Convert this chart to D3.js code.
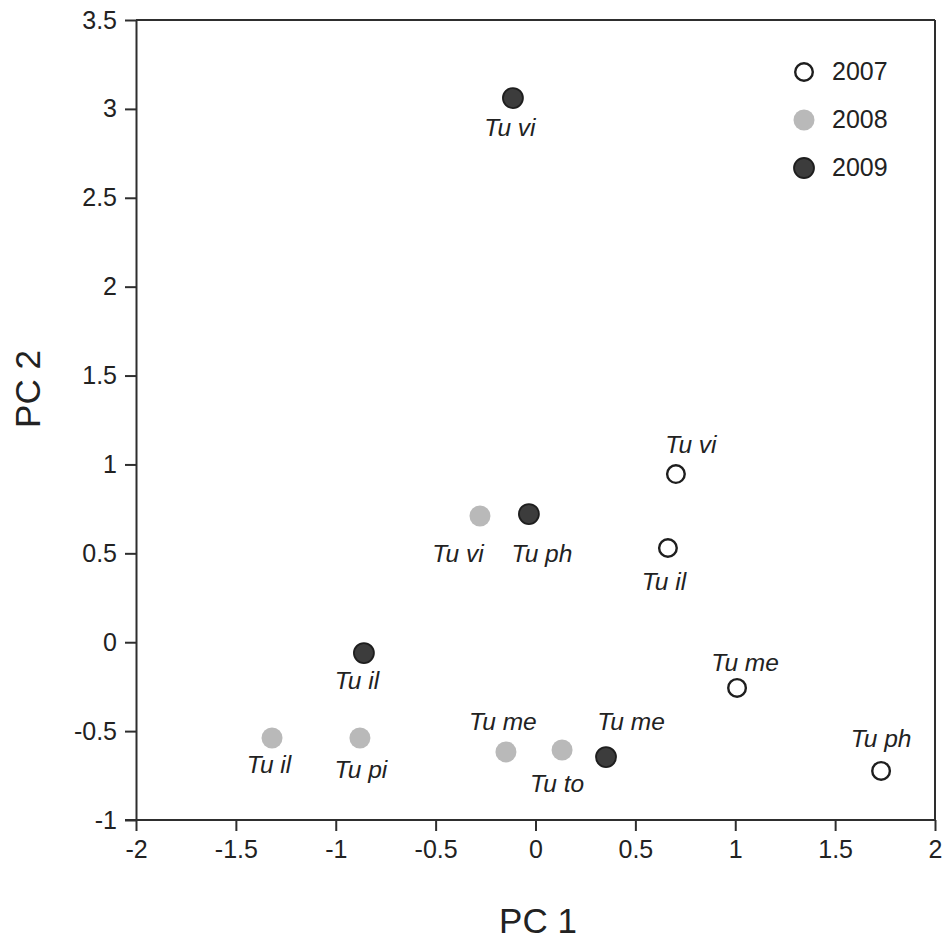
<!DOCTYPE html>
<html>
<head>
<meta charset="utf-8">
<script src="https://cdn.jsdelivr.net/npm/d3@7/dist/d3.min.js"></script>
<style>
  html, body { margin: 0; padding: 0; background: #fff; }
  svg { display: block; font-family: "Liberation Sans", Arial, sans-serif; }
</style>
</head>
<body>
<script>
// ---- data ----
const years = ["2007", "2008", "2009"];
const species = [
  "Tu vi", "Tu il", "Tu me", "Tu ph",            // 2007
  "Tu vi", "Tu il", "Tu pi", "Tu me", "Tu to",   // 2008
  "Tu vi", "Tu ph", "Tu il", "Tu me"             // 2009
];
const pointYear = [
  "2007", "2007", "2007", "2007",
  "2008", "2008", "2008", "2008", "2008",
  "2009", "2009", "2009", "2009"
];
const pc1 = [0.703, 0.663, 1.009, 1.730, -0.278, -1.319, -0.879, -0.148, 0.133, -0.113, -0.033, -0.859, 0.353];
const pc2 = [0.946, 0.530, -0.257, -0.724, 0.710, -0.539, -0.539, -0.617, -0.606, 3.061, 0.721, -0.061, -0.646];
const xTicks = [-2, -1.5, -1, -0.5, 0, 0.5, 1, 1.5, 2];
const yTicks = [-1, -0.5, 0, 0.5, 1, 1.5, 2, 2.5, 3, 3.5];

// label placement (pixel offsets from the point: dx to text centre, dy to baseline)
const labelDx = [15, -4, 8, 0, -22, -3, 1, -3, -5, -3, 13, -7, 25];
const labelDy = [-21, 42, -17, -24, 46, 35, 40, -22, 42, 38, 48, 36, -27];

// ---- layout ----
const W = 948, H = 941;
const M = { left: 136, right: 13, top: 20, bottom: 121 };
const iw = W - M.left - M.right; // 799
const ih = H - M.top - M.bottom; // 800

const fillColor = { "2007": "#ffffff", "2008": "#b9b9b9", "2009": "#3c3c3c" };
const strokeColor = { "2007": "#1e1e1e", "2008": "#b9b9b9", "2009": "#1e1e1e" };
const strokeW = { "2007": 2.4, "2008": 0, "2009": 1.8 };
const radius = { "2007": 8.8, "2008": 10.5, "2009": 10 };

const svg = d3.select("body").append("svg").attr("width", W).attr("height", H);
const g = svg.append("g").attr("transform", `translate(${M.left},${M.top})`);

const x = d3.scaleLinear().domain([-2, 2]).range([0, iw]);
const y = d3.scaleLinear().domain([-1, 3.5]).range([ih, 0]);

const axisColor = "#2e2e2e";
const textColor = "#222";

// frame (top and right)
g.append("line").attr("x1", 0).attr("x2", iw).attr("y1", 0).attr("y2", 0)
  .attr("stroke", axisColor).attr("stroke-width", 2);
g.append("line").attr("x1", iw).attr("x2", iw).attr("y1", 0).attr("y2", ih)
  .attr("stroke", axisColor).attr("stroke-width", 2);

const fmt = d => String(d);

const xAxis = g.append("g").attr("transform", `translate(0,${ih})`)
  .call(d3.axisBottom(x).tickValues(xTicks).tickFormat(fmt).tickSize(11).tickPadding(9).tickSizeOuter(0));
const yAxis = g.append("g")
  .call(d3.axisLeft(y).tickValues(yTicks).tickFormat(fmt).tickSize(11).tickPadding(8).tickSizeOuter(0));

[xAxis, yAxis].forEach(a => {
  a.select(".domain").attr("stroke", axisColor).attr("stroke-width", 2);
  a.selectAll(".tick line").attr("stroke", axisColor).attr("stroke-width", 2);
  a.selectAll(".tick text").attr("fill", textColor)
    .style("font-size", "25px").style("font-family", '"Liberation Sans", Arial, sans-serif');
});
// extend the axes at the corner like the reference
xAxis.select(".domain").attr("d", `M-11,0H${iw}`);

// axis titles
svg.append("text").attr("x", 538).attr("y", 933).attr("text-anchor", "middle")
  .attr("fill", textColor).style("font-size", "35px").text("PC 1");
svg.append("text").attr("transform", "translate(40,389) rotate(-90)").attr("text-anchor", "middle")
  .attr("fill", textColor).style("font-size", "35px").text("PC 2");

// points
const pts = species.map((s, i) => ({ s, yr: pointYear[i], x: pc1[i], y: pc2[i], dx: labelDx[i], dy: labelDy[i] }));

g.selectAll("circle.pt").data(pts).join("circle").attr("class", "pt")
  .attr("cx", d => x(d.x)).attr("cy", d => y(d.y))
  .attr("r", d => radius[d.yr])
  .attr("fill", d => fillColor[d.yr])
  .attr("stroke", d => strokeColor[d.yr])
  .attr("stroke-width", d => strokeW[d.yr]);

g.selectAll("text.lbl").data(pts).join("text").attr("class", "lbl")
  .attr("x", d => x(d.x) + d.dx).attr("y", d => y(d.y) + d.dy)
  .attr("text-anchor", "middle").attr("fill", textColor)
  .style("font-size", "24.5px").style("font-style", "italic")
  .text(d => d.s);

// legend
const lg = svg.append("g").attr("transform", "translate(804,72)");
const li = lg.selectAll("g").data(years).join("g")
  .attr("transform", (d, i) => `translate(0,${i * 48})`);
li.append("circle").attr("r", d => radius[d])
  .attr("fill", d => fillColor[d]).attr("stroke", d => strokeColor[d]).attr("stroke-width", d => strokeW[d]);
li.append("text").attr("x", 28).attr("y", 8).attr("fill", textColor)
  .style("font-size", "25px").text(d => d);
</script>
</body>
</html>
